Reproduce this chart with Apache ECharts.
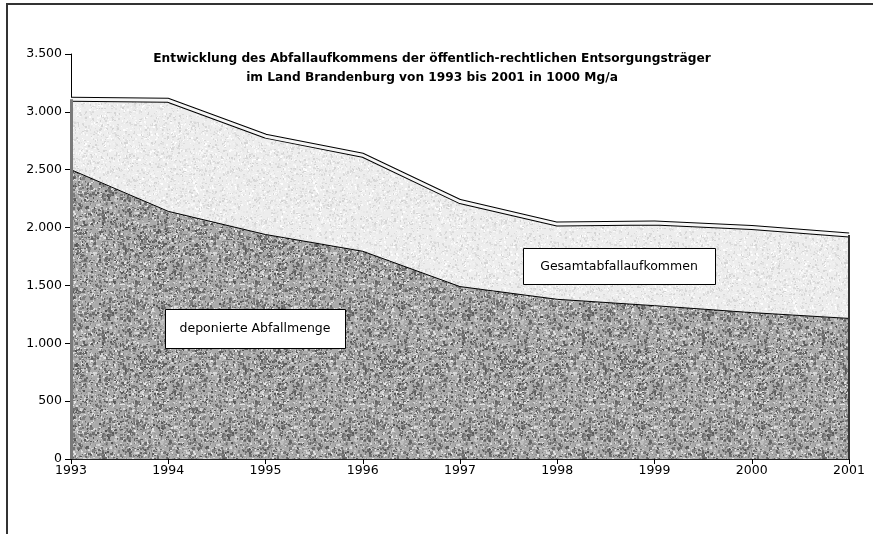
<!DOCTYPE html>
<html>
<head>
<meta charset="utf-8">
<script src="https://cdn.jsdelivr.net/npm/echarts@6/dist/echarts.min.js"></script>
<style>
  html, body { margin: 0; padding: 0; background: #fff; }
  #chart { width: 873px; height: 534px; }
</style>
</head>
<body>
<div id="chart"></div>
<script>
// Jahre und Werte in 1000 Mg/a
const jahre = ['1993', '1994', '1995', '1996', '1997', '1998', '1999', '2000', '2001'];
const gesamt = [3110, 3100, 2790, 2625, 2225, 2030, 2040, 2000, 1935];
const deponiert = [2500, 2140, 1940, 1795, 1490, 1380, 1325, 1265, 1215];
const titelZeilen = [
  'Entwicklung des Abfallaufkommens der öffentlich-rechtlichen Entsorgungsträger',
  'im Land Brandenburg von 1993 bis 2001 in 1000 Mg/a'
];

// Struktur-Muster fuer die Flaechen (Rauschen, nur Optik)
function textur(grund, lo, hi, dichte, klumpen, seed) {
  const c = document.createElement('canvas');
  c.width = c.height = 120;
  const g = c.getContext('2d');
  g.fillStyle = grund;
  g.fillRect(0, 0, 120, 120);
  let s = seed;
  const rnd = () => (s = (s * 16807) % 2147483647) / 2147483647;
  for (let i = 0; i < dichte; i++) {
    const v = Math.round(lo + (hi - lo) * rnd());
    g.fillStyle = 'rgb(' + v + ',' + v + ',' + v + ')';
    g.fillRect(Math.floor(rnd() * 120), Math.floor(rnd() * 120), rnd() < 0.5 ? 2 : 1, rnd() < 0.5 ? 2 : 1);
  }
  // etwas groessere dunkle Flecken
  for (let i = 0; i < klumpen; i++) {
    const v = Math.round(lo + 40 * rnd());
    g.fillStyle = 'rgba(' + v + ',' + v + ',' + v + ',0.7)';
    g.fillRect(Math.floor(rnd() * 120), Math.floor(rnd() * 120), 2 + Math.floor(rnd() * 2), 2 + Math.floor(rnd() * 2));
  }
  return c;
}
const dunkel = textur('#aaaaaa', 80, 235, 5000, 260, 12345);
const hell = textur('#ededed', 210, 255, 3500, 0, 6789);

const fmt = v => v >= 1000 ? Math.floor(v / 1000) + '.' + String(v % 1000).padStart(3, '0') : String(v);
const schrift = 'DejaVu Sans, Liberation Sans, sans-serif';

const chart = echarts.init(document.getElementById('chart'));
chart.setOption({
  animation: false,
  textStyle: { fontFamily: schrift },
  title: {
    text: titelZeilen.join('\n'),
    left: 427,
    top: 44,
    textAlign: 'center',
    textStyle: { fontSize: 12.2, fontWeight: 'bold', color: '#000', lineHeight: 19, fontFamily: schrift }
  },
  grid: { left: 71, right: 24, top: 54, bottom: 75 },
  xAxis: {
    type: 'category',
    data: jahre,
    boundaryGap: false,
    axisLine: { lineStyle: { color: '#222', width: 2 } },
    axisTick: { length: 5, lineStyle: { color: '#000' } },
    axisLabel: { color: '#000', fontSize: 12.5, margin: 5 },
    splitLine: { show: false }
  },
  yAxis: {
    type: 'value',
    min: 0,
    max: 3500,
    interval: 500,
    axisLine: { show: true, lineStyle: { color: '#000', width: 1 } },
    axisTick: { show: true, length: 6, lineStyle: { color: '#000' } },
    axisLabel: { color: '#000', fontSize: 12.5, margin: 9, formatter: fmt },
    splitLine: { show: false }
  },
  series: [
    {
      name: 'Gesamtabfallaufkommen',
      type: 'line',
      data: gesamt,
      symbol: 'none',
      z: 1,
      lineStyle: { color: '#000', width: 5 },
      areaStyle: { color: { image: hell, repeat: 'repeat' }, opacity: 1 },
      markLine: {
        symbol: 'none',
        silent: true,
        label: { show: false },
        data: [
          [{ coord: [jahre[0], 0], lineStyle: { color: '#7a7a7a', width: 3, type: 'solid' } }, { coord: [jahre[0], gesamt[0]] }],
          [{ coord: [jahre[8], 0], lineStyle: { color: '#333', width: 2, type: 'solid' } }, { coord: [jahre[8], gesamt[8]] }]
        ]
      }
    },
    {
      name: 'Kante',
      type: 'line',
      data: gesamt,
      symbol: 'none',
      z: 3,
      lineStyle: { color: '#f6f6f6', width: 3 }
    },
    {
      name: 'deponierte Abfallmenge',
      type: 'line',
      data: deponiert,
      symbol: 'none',
      z: 2,
      lineStyle: { color: '#000', width: 1 },
      areaStyle: { color: { image: dunkel, repeat: 'repeat' }, opacity: 1 }
    }
  ],
  graphic: [
    {
      type: 'rect', z: 100, silent: true,
      shape: { x: 7, y: 4, width: 1000, height: 1000 },
      style: { fill: null, stroke: '#333', lineWidth: 2 }
    },
    {
      type: 'rect', z: 100,
      shape: { x: 523.5, y: 248.5, width: 192, height: 36 },
      style: { fill: '#fff', stroke: '#000', lineWidth: 1 }
    },
    {
      type: 'text', z: 101, x: 619, y: 267,
      style: { text: 'Gesamtabfallaufkommen', fill: '#000', fontSize: 12.5, fontFamily: schrift, align: 'center', verticalAlign: 'middle' }
    },
    {
      type: 'rect', z: 100,
      shape: { x: 165.5, y: 309.5, width: 180, height: 39 },
      style: { fill: '#fff', stroke: '#000', lineWidth: 1 }
    },
    {
      type: 'text', z: 101, x: 255, y: 329,
      style: { text: 'deponierte Abfallmenge', fill: '#000', fontSize: 12.5, fontFamily: schrift, align: 'center', verticalAlign: 'middle' }
    }
  ]
});
</script>
</body>
</html>
